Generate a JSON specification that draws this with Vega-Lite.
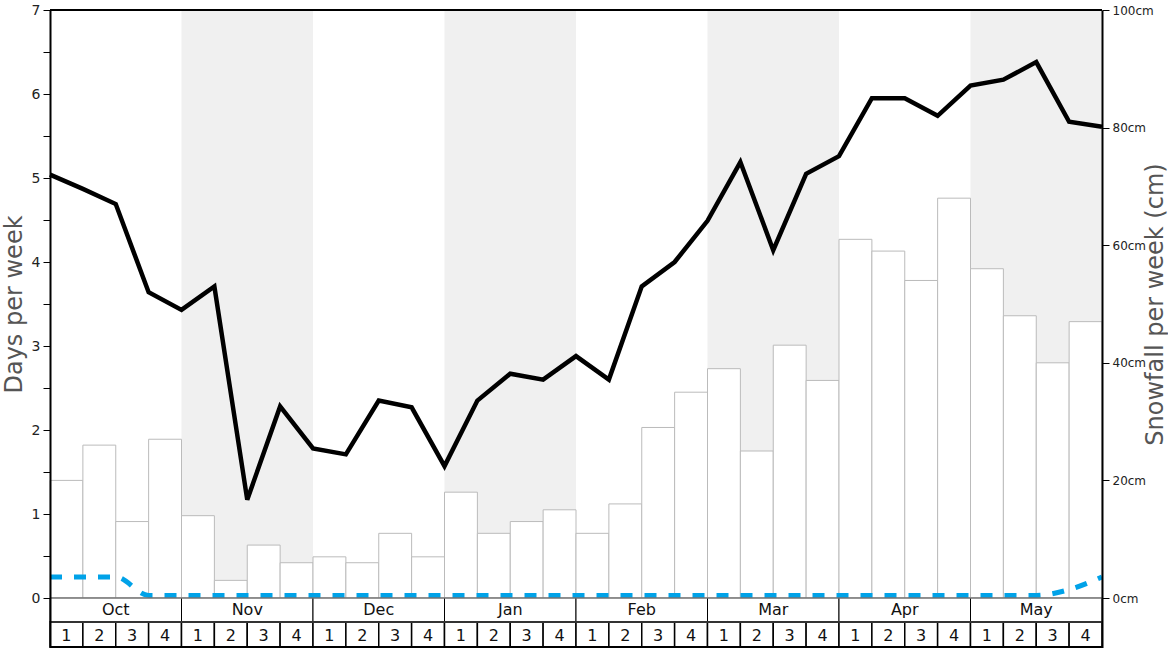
{
  "$schema": "https://vega.github.io/schema/vega-lite/v6.json",
  "width": 1052,
  "height": 638,
  "autosize": {"type": "none"},
  "padding": {"left": 50, "top": 10, "right": 66, "bottom": 0},
  "background": "white",
  "config": {"view": {"stroke": null}, "font": "DejaVu Sans", "text": {"font": "DejaVu Sans"}},
  "datasets": {
    "weeks": [
      {"month": "Oct", "week": 1, "start": 0, "end": 1, "snow": 20},
      {"month": "Oct", "week": 2, "start": 1, "end": 2, "snow": 26},
      {"month": "Oct", "week": 3, "start": 2, "end": 3, "snow": 13},
      {"month": "Oct", "week": 4, "start": 3, "end": 4, "snow": 27},
      {"month": "Nov", "week": 1, "start": 4, "end": 5, "snow": 14},
      {"month": "Nov", "week": 2, "start": 5, "end": 6, "snow": 3},
      {"month": "Nov", "week": 3, "start": 6, "end": 7, "snow": 9},
      {"month": "Nov", "week": 4, "start": 7, "end": 8, "snow": 6},
      {"month": "Dec", "week": 1, "start": 8, "end": 9, "snow": 7},
      {"month": "Dec", "week": 2, "start": 9, "end": 10, "snow": 6},
      {"month": "Dec", "week": 3, "start": 10, "end": 11, "snow": 11},
      {"month": "Dec", "week": 4, "start": 11, "end": 12, "snow": 7},
      {"month": "Jan", "week": 1, "start": 12, "end": 13, "snow": 18},
      {"month": "Jan", "week": 2, "start": 13, "end": 14, "snow": 11},
      {"month": "Jan", "week": 3, "start": 14, "end": 15, "snow": 13},
      {"month": "Jan", "week": 4, "start": 15, "end": 16, "snow": 15},
      {"month": "Feb", "week": 1, "start": 16, "end": 17, "snow": 11},
      {"month": "Feb", "week": 2, "start": 17, "end": 18, "snow": 16},
      {"month": "Feb", "week": 3, "start": 18, "end": 19, "snow": 29},
      {"month": "Feb", "week": 4, "start": 19, "end": 20, "snow": 35},
      {"month": "Mar", "week": 1, "start": 20, "end": 21, "snow": 39},
      {"month": "Mar", "week": 2, "start": 21, "end": 22, "snow": 25},
      {"month": "Mar", "week": 3, "start": 22, "end": 23, "snow": 43},
      {"month": "Mar", "week": 4, "start": 23, "end": 24, "snow": 37},
      {"month": "Apr", "week": 1, "start": 24, "end": 25, "snow": 61},
      {"month": "Apr", "week": 2, "start": 25, "end": 26, "snow": 59},
      {"month": "Apr", "week": 3, "start": 26, "end": 27, "snow": 54},
      {"month": "Apr", "week": 4, "start": 27, "end": 28, "snow": 68},
      {"month": "May", "week": 1, "start": 28, "end": 29, "snow": 56},
      {"month": "May", "week": 2, "start": 29, "end": 30, "snow": 48},
      {"month": "May", "week": 3, "start": 30, "end": 31, "snow": 40},
      {"month": "May", "week": 4, "start": 31, "end": 32, "snow": 47}
    ],
    "months": [
      {"month": "Oct", "start": 0, "end": 4},
      {"month": "Nov", "start": 4, "end": 8},
      {"month": "Dec", "start": 8, "end": 12},
      {"month": "Jan", "start": 12, "end": 16},
      {"month": "Feb", "start": 16, "end": 20},
      {"month": "Mar", "start": 20, "end": 24},
      {"month": "Apr", "start": 24, "end": 28},
      {"month": "May", "start": 28, "end": 32}
    ],
    "days": [
      {"t": 0, "days": 5.04, "other": 0.25},
      {"t": 1, "days": 4.87, "other": 0.25},
      {"t": 2, "days": 4.69, "other": 0.25},
      {"t": 3, "days": 3.64, "other": 0.03},
      {"t": 4, "days": 3.43, "other": 0.03},
      {"t": 5, "days": 3.71, "other": 0.03},
      {"t": 6, "days": 1.17, "other": 0.03},
      {"t": 7, "days": 2.28, "other": 0.03},
      {"t": 8, "days": 1.78, "other": 0.03},
      {"t": 9, "days": 1.71, "other": 0.03},
      {"t": 10, "days": 2.35, "other": 0.03},
      {"t": 11, "days": 2.27, "other": 0.03},
      {"t": 12, "days": 1.57, "other": 0.03},
      {"t": 13, "days": 2.35, "other": 0.03},
      {"t": 14, "days": 2.67, "other": 0.03},
      {"t": 15, "days": 2.6, "other": 0.03},
      {"t": 16, "days": 2.88, "other": 0.03},
      {"t": 17, "days": 2.6, "other": 0.03},
      {"t": 18, "days": 3.71, "other": 0.03},
      {"t": 19, "days": 4.0, "other": 0.03},
      {"t": 20, "days": 4.49, "other": 0.03},
      {"t": 21, "days": 5.19, "other": 0.03},
      {"t": 22, "days": 4.14, "other": 0.03},
      {"t": 23, "days": 5.05, "other": 0.03},
      {"t": 24, "days": 5.26, "other": 0.03},
      {"t": 25, "days": 5.95, "other": 0.03},
      {"t": 26, "days": 5.95, "other": 0.03},
      {"t": 27, "days": 5.74, "other": 0.03},
      {"t": 28, "days": 6.1, "other": 0.03},
      {"t": 29, "days": 6.17, "other": 0.03},
      {"t": 30, "days": 6.38, "other": 0.03},
      {"t": 31, "days": 5.67, "other": 0.1},
      {"t": 32, "days": 5.61, "other": 0.25}
    ]
  },
  "layer": [
    {
      "layer": [
        {
          "data": {"name": "months"},
          "transform": [{"filter": "indexof(['Nov','Jan','Mar','May'], datum.month) >= 0"}],
          "mark": {"type": "rect", "fill": "#f0f0f0"},
          "encoding": {
            "x": {"field": "start", "type": "quantitative", "scale": {"domain": [0, 32], "nice": false, "zero": false}, "axis": null},
            "x2": {"field": "end"},
            "y": {"datum": 0, "type": "quantitative", "title": "Snowfall per week (cm)"},
            "y2": {"datum": 100}
          }
        },
        {
          "data": {"name": "weeks"},
          "mark": {"type": "rect", "fill": "white", "stroke": "#bbbbbb", "strokeWidth": 1},
          "encoding": {
            "x": {"field": "start", "type": "quantitative"},
            "x2": {"field": "end"},
            "y": {
              "field": "snow", "type": "quantitative",
              "title": "Snowfall per week (cm)",
              "scale": {"domain": [-8.503, 100], "nice": false, "zero": false},
              "axis": {
                "orient": "right", "values": [0, 20, 40, 60, 80, 100],
                "labelExpr": "datum.value + 'cm'", "labelFontSize": 12, "labelColor": "#222",
                "labelFlush": false, "labelPadding": 3,
                "tickSize": 7, "tickColor": "black", "tickWidth": 1,
                "domainColor": "black", "domainWidth": 2, "grid": false, "zindex": 1,
                "titleFontSize": 24, "titleColor": "#555", "titleFontWeight": "normal",
                "titleAngle": 270, "titleX": 53, "titleY": 294, "titleAlign": "center", "titleBaseline": "middle"
              }
            },
            "y2": {"datum": 0}
          }
        }
      ]
    },
    {
      "layer": [
        {
          "data": {"name": "days"},
          "mark": {"type": "line", "color": "#00a2e8", "strokeWidth": 5, "strokeDash": [12, 12], "interpolate": "monotone"},
          "encoding": {
            "x": {"field": "t", "type": "quantitative", "scale": {"domain": [0, 32], "nice": false, "zero": false}, "axis": null},
            "y": {
              "field": "other", "type": "quantitative", "title": "Days per week",
              "scale": {"domain": [-0.5952, 7], "nice": false, "zero": false},
              "axis": {
                "orient": "left", "values": [0, 0.5, 1, 1.5, 2, 2.5, 3, 3.5, 4, 4.5, 5, 5.5, 6, 6.5, 7],
                "labelExpr": "datum.value % 1 === 0 ? '' + datum.value : ''", "labelFontSize": 14, "labelColor": "#222",
                "labelFlush": false, "labelPadding": 3,
                "tickSize": 7, "tickColor": "black", "tickWidth": 1,
                "domainColor": "black", "domainWidth": 2, "grid": false, "zindex": 1,
                "titleFontSize": 24, "titleColor": "#555", "titleFontWeight": "normal",
                "titleAngle": 270, "titleX": -36, "titleY": 294, "titleAlign": "center", "titleBaseline": "middle"
              }
            }
          }
        },
        {
          "data": {"name": "days"},
          "mark": {"type": "line", "color": "black", "strokeWidth": 4.5},
          "encoding": {
            "x": {"field": "t", "type": "quantitative"},
            "y": {"field": "days", "type": "quantitative", "title": "Days per week"}
          }
        },
        {
          "data": {"name": "months"},
          "mark": {"type": "rect", "fill": "white", "stroke": "black", "strokeWidth": 1},
          "encoding": {
            "x": {"field": "start", "type": "quantitative"},
            "x2": {"field": "end"},
            "y": {"datum": 0, "type": "quantitative"},
            "y2": {"datum": -0.2857}
          }
        },
        {
          "data": {"name": "weeks"},
          "mark": {"type": "rect", "fill": "white", "stroke": "black", "strokeWidth": 1.5},
          "encoding": {
            "x": {"field": "start", "type": "quantitative"},
            "x2": {"field": "end"},
            "y": {"datum": -0.2857, "type": "quantitative"},
            "y2": {"datum": -0.5833}
          }
        },
        {
          "data": {"values": [{}]},
          "mark": {"type": "rule", "color": "#aaaaaa", "strokeWidth": 1},
          "encoding": {"x": {"datum": 0, "type": "quantitative"}, "x2": {"datum": 32}, "y": {"datum": 0, "type": "quantitative"}}
        },
        {
          "data": {"values": [{}]},
          "mark": {"type": "rule", "color": "black", "strokeWidth": 2},
          "encoding": {"x": {"datum": 0, "type": "quantitative"}, "x2": {"datum": 32}, "y": {"datum": 7, "type": "quantitative"}}
        },
        {
          "data": {"values": [{}]},
          "mark": {"type": "rule", "color": "#333333", "strokeWidth": 2},
          "encoding": {"x": {"datum": 0, "type": "quantitative"}, "x2": {"datum": 32}, "y": {"datum": -0.2857, "type": "quantitative"}}
        },
        {
          "data": {"values": [{}]},
          "mark": {"type": "rule", "color": "black", "strokeWidth": 2},
          "encoding": {"x": {"datum": 0, "type": "quantitative"}, "x2": {"datum": 32}, "y": {"datum": -0.5833, "type": "quantitative"}}
        },
        {
          "data": {"name": "weeks"},
          "transform": [{"filter": "datum.week == 2"}],
          "mark": {"type": "text", "fontSize": 16, "color": "#111", "baseline": "middle", "align": "center"},
          "encoding": {
            "x": {"field": "end", "type": "quantitative"},
            "y": {"datum": -0.143, "type": "quantitative"},
            "text": {"field": "month"}
          }
        }
      ]
    },
    {
      "data": {"name": "weeks"},
      "mark": {"type": "text", "fontSize": 16, "color": "#111", "baseline": "middle", "align": "center"},
      "encoding": {
        "x": {"field": "start", "type": "quantitative", "scale": {"domain": [-0.5, 31.5], "nice": false, "zero": false}, "axis": null},
        "y": {"datum": -0.447, "type": "quantitative", "scale": {"domain": [-0.5952, 7], "nice": false, "zero": false}, "axis": null},
        "text": {"field": "week"}
      }
    }
  ],
  "resolve": {"scale": {"y": "independent", "x": "independent"}}
}
